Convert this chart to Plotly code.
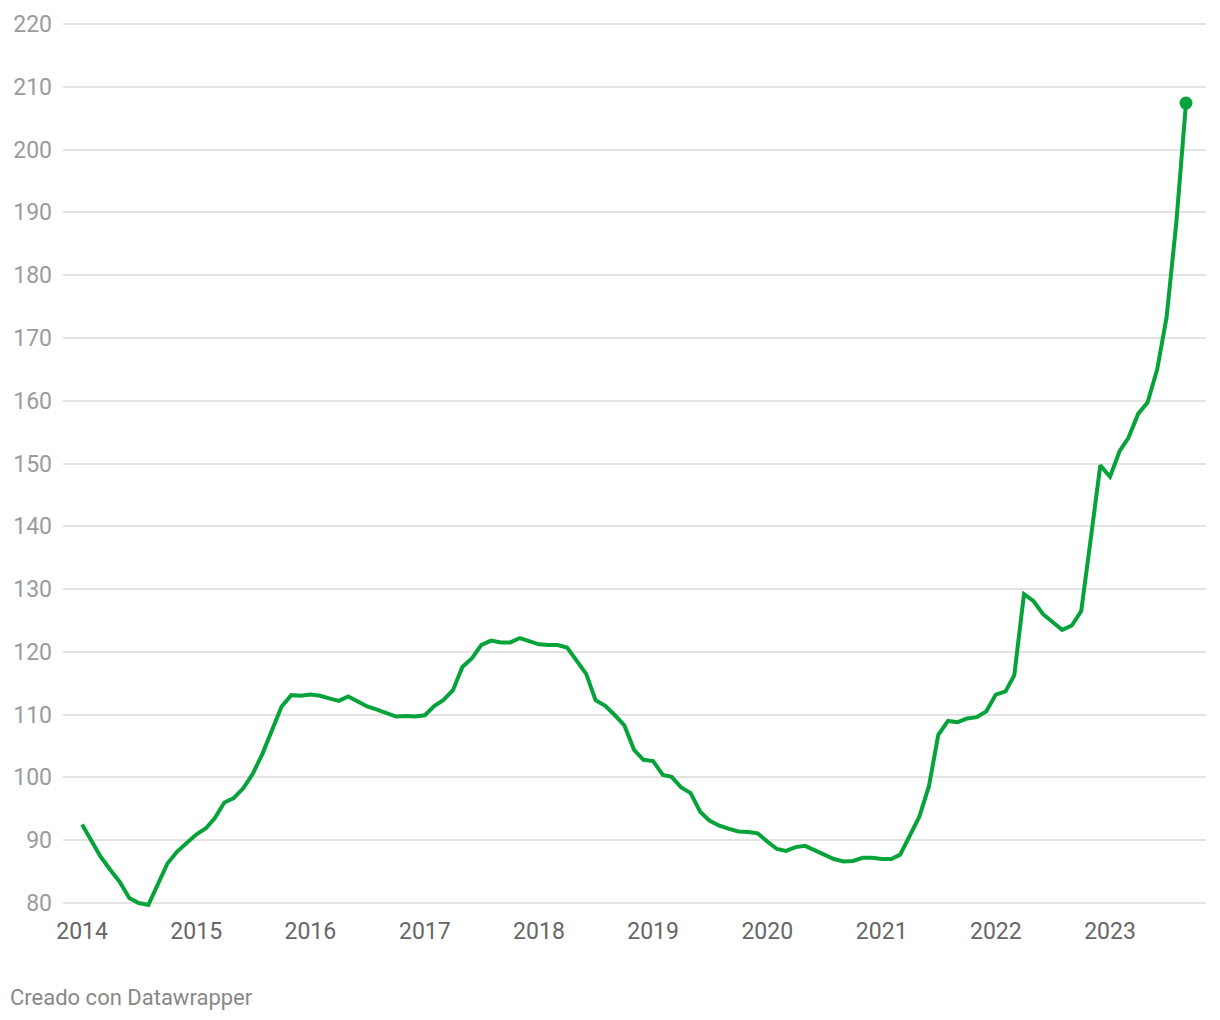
import plotly.graph_objects as go
import pandas as pd

# Monthly values, Jan 2014 - Sep 2023
v2014 = [92.5, 89.8, 87.4, 85.3, 83.4, 80.8, 80.0, 79.7, 83.1, 86.3, 88.2, 89.5]
v2015 = [90.9, 91.9, 93.5, 96.0, 96.7, 98.3, 100.6, 103.8, 107.6, 111.3, 113.1, 113.0]
v2016 = [113.2, 113.0, 112.6, 112.2, 112.9, 112.1, 111.3, 110.8, 110.2, 109.7, 109.8, 109.7]
v2017 = [109.9, 111.4, 112.3, 113.9, 117.6, 119.0, 121.1, 121.8, 121.5, 121.5, 122.2, 121.7]
v2018 = [121.2, 121.1, 121.1, 120.7, 118.7, 116.5, 112.3, 111.4, 109.9, 108.3, 104.4, 102.8]
v2019 = [102.6, 100.4, 100.1, 98.4, 97.5, 94.5, 93.1, 92.3, 91.8, 91.4, 91.3, 91.1]
v2020 = [89.8, 88.6, 88.3, 88.9, 89.1, 88.4, 87.6, 87.0, 86.6, 86.7, 87.2, 87.2]
v2021 = [87.0, 87.0, 87.7, 90.6, 93.7, 98.6, 106.8, 109.0, 108.8, 109.4, 109.6, 110.5]
v2022 = [113.2, 113.7, 116.3, 129.2, 128.1, 126.0, 124.8, 123.5, 124.2, 126.5, 138.2, 149.7]
v2023 = [147.9, 152.0, 154.1, 157.9, 159.7, 165.0, 173.3, 188.3, 207.4]

values = v2014 + v2015 + v2016 + v2017 + v2018 + v2019 + v2020 + v2021 + v2022 + v2023
dates = pd.date_range("2014-01-01", periods=len(values), freq="MS")

year_labels = ["2014", "2015", "2016", "2017", "2018", "2019", "2020", "2021", "2022", "2023"]
year_ticks = [f"{y}-01-01" for y in year_labels]
y_ticks = list(range(80, 221, 10))

GREEN = "#06a33a"

fig = go.Figure()
fig.add_trace(go.Scatter(
    x=dates, y=values, mode="lines",
    line=dict(color=GREEN, width=4),
    hoverinfo="x+y", showlegend=False,
))
fig.add_trace(go.Scatter(
    x=[dates[-1]], y=[values[-1]], mode="markers",
    marker=dict(color=GREEN, size=13),
    hoverinfo="x+y", showlegend=False, cliponaxis=False,
))

ML, MR, MT, MB = 55, 22, 14, 121
PW = 1220 - ML - MR
PH = 1020 - MT - MB

fig.update_layout(
    width=1220, height=1020,
    margin=dict(l=ML, r=MR, t=MT, b=MB, autoexpand=False),
    paper_bgcolor="white", plot_bgcolor="white",
    font=dict(family="Roboto", size=23, color="#666666"),
    xaxis=dict(
        type="date", automargin=False,
        range=["2013-11-01", "2023-11-04"],
        tickvals=year_ticks, ticktext=year_labels,
        showgrid=False, zeroline=False, showline=False,
        ticks="", ticklabelstandoff=8,
        tickfont=dict(family="Roboto", size=23, color="#666666"),
    ),
    yaxis=dict(
        automargin=False,
        range=[79.363, 220.3185],
        tickvals=y_ticks,
        showgrid=True, gridcolor="#e3e3e3", gridwidth=2,
        zeroline=False, showline=False,
        ticks="", ticklabelstandoff=10,
        tickfont=dict(family="Roboto", size=23, color="#9b9b9b"),
    ),
    annotations=[dict(
        text="Creado con Datawrapper",
        xref="paper", yref="paper",
        x=(0 - ML) / PW, y=-(989 - (1020 - MB)) / PH,
        xanchor="left", yanchor="middle",
        showarrow=False,
        font=dict(family="Roboto", size=22, color="#888888"),
    )],
)

fig.write_html("out.html")
